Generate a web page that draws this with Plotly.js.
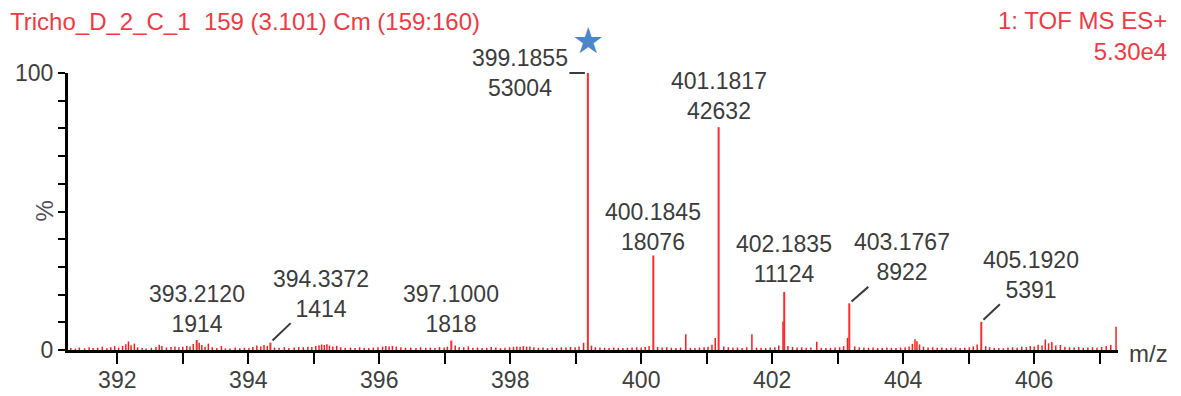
<!DOCTYPE html>
<html>
<head>
<meta charset="utf-8">
<script src="https://cdn.plot.ly/plotly-3.0.1.min.js"></script>
<style>html,body{margin:0;padding:0;background:#fff;}#chart{width:1181px;height:396px;}</style>
</head>
<body>
<div id="chart"></div>
<script>
// ---- data ----
const titleLeft = "Tricho_D_2_C_1\u00A0\u00A0159 (3.101) Cm (159:160)";
const titleRight = "1: TOF MS ES+";
const baseIntensityText = "5.30e4";
const basePeakIntensity = 53004;

// labelled peaks (m/z, absolute intensity)
const labelMz = [393.2120, 394.3372, 397.1000, 399.1855, 400.1845, 401.1817, 402.1835, 403.1767, 405.1920];
const labelInt = [1914, 1414, 1818, 53004, 18076, 42632, 11124, 8922, 5391];

// unlabelled peaks (m/z, relative intensity %)
const minorMz = [391.29,391.36,391.42,391.50,391.57,391.63,391.70,391.77,391.84,391.90,391.96,392.02,392.08,392.13,392.17,392.21,392.26,392.31,392.38,392.44,392.52,392.59,392.64,392.68,392.75,392.82,392.88,392.94,393.00,393.06,393.11,393.16,393.25,393.29,393.34,393.39,393.45,393.52,393.59,393.65,393.72,393.80,393.87,393.94,394.01,394.07,394.13,394.19,394.24,394.29,394.40,394.47,394.55,394.62,394.70,394.77,394.84,394.91,394.97,395.03,395.08,395.12,395.16,395.20,395.24,395.29,395.35,395.41,395.48,395.56,395.63,395.70,395.77,395.84,395.91,395.98,396.05,396.10,396.15,396.20,396.26,396.33,396.40,396.48,396.56,396.63,396.71,396.78,396.85,396.92,396.99,397.04,397.16,397.22,397.29,397.36,397.43,397.50,397.57,397.64,397.71,397.78,397.85,397.92,397.99,398.05,398.10,398.15,398.20,398.25,398.30,398.36,398.43,398.50,398.57,398.64,398.71,398.78,398.85,398.92,398.99,399.05,399.12,399.24,399.30,399.37,399.44,399.51,399.58,399.65,399.72,399.79,399.86,399.93,400.00,400.06,400.12,400.25,400.32,400.39,400.46,400.53,400.60,400.68,400.75,400.82,400.89,400.96,401.02,401.08,401.13,401.26,401.33,401.40,401.47,401.54,401.61,401.69,401.76,401.83,401.90,401.97,402.04,402.10,402.165,402.24,402.31,402.38,402.45,402.52,402.59,402.68,402.75,402.82,402.89,402.96,403.03,403.09,403.15,403.26,403.33,403.40,403.47,403.54,403.61,403.68,403.75,403.82,403.89,403.96,404.03,404.09,404.14,404.18,404.21,404.25,404.31,404.38,404.45,404.52,404.59,404.66,404.73,404.80,404.87,404.94,405.01,405.07,405.13,405.26,405.32,405.39,405.46,405.53,405.60,405.67,405.74,405.81,405.88,405.94,406.00,406.06,406.12,406.17,406.22,406.27,406.33,406.40,406.47,406.54,406.61,406.68,406.75,406.82,406.89,406.96,407.03,407.10,407.17,407.25];
const minorPct = [0.7,0.5,0.9,0.6,1.0,0.7,0.8,1.2,0.6,1.0,1.4,0.9,1.5,2.1,3.1,1.7,2.3,1.0,0.7,0.5,0.8,1.1,1.9,1.4,0.9,1.1,1.3,1.0,1.2,1.5,1.3,2.2,2.6,1.8,1.2,2.3,1.0,0.7,1.4,0.6,0.5,0.9,0.6,0.8,0.7,1.1,1.6,1.3,1.8,1.5,0.9,0.8,1.0,0.7,0.9,1.1,1.0,1.2,1.1,1.4,1.7,2.0,1.8,2.1,1.6,1.3,1.5,1.0,0.8,0.9,0.7,1.0,0.8,0.7,0.9,1.0,1.2,1.4,1.3,1.5,1.2,1.0,0.8,0.9,0.7,1.0,0.8,0.9,0.7,1.1,0.9,1.2,1.6,1.1,1.0,1.3,0.8,0.9,0.7,0.8,1.1,0.9,0.7,0.8,1.0,1.1,1.3,1.2,1.4,1.2,1.3,1.0,0.8,0.9,0.7,0.9,0.8,1.0,0.9,1.1,1.0,1.3,2.6,1.6,1.0,0.9,0.8,0.7,0.9,0.8,0.7,0.8,0.9,1.0,0.9,1.1,1.4,1.1,0.9,1.0,0.8,0.7,0.9,5.7,0.8,0.7,0.9,1.0,1.2,1.9,4.3,1.3,1.0,0.8,0.9,0.7,1.0,5.7,0.9,0.8,0.7,0.9,1.0,1.6,10.3,1.4,1.1,0.9,1.0,0.8,0.9,3.0,0.8,0.7,0.8,0.9,1.0,1.4,4.4,1.3,1.0,0.9,0.8,0.9,0.7,0.8,0.9,0.8,0.7,0.9,1.0,1.3,2.2,3.9,3.2,2.0,1.2,0.9,1.0,0.8,0.9,0.7,0.8,0.9,0.7,0.8,1.0,1.3,2.0,1.4,1.0,0.8,0.7,0.6,0.9,1.0,0.8,1.2,1.0,1.4,1.3,1.9,1.6,3.8,2.4,2.9,1.6,1.8,1.2,1.0,0.9,1.1,0.8,0.9,1.0,0.8,1.1,1.4,1.8,8.4];

const xTickVals = [392,393,394,395,396,397,398,399,400,401,402,403,404,405,406,407];
const xTickText = ["392","","394","","396","","398","","400","","402","","404","","406",""];
const yTickVals = [0,10,20,30,40,50,60,70,80,90,100];
const yTickText = ["0","","","","","","","","","","100"];

// ---- label placement (pixel offsets from peak top) ----
const labelStyle = [
  {dx:0, dy:31, arrow:false},
  {dx:51, dy:-49, arrow:true},
  {dx:0, dy:32, arrow:false},
  {dx:-68, dy:0, arrow:true},
  {dx:0, dy:29, arrow:false},
  {dx:0, dy:31, arrow:false},
  {dx:0, dy:33, arrow:false},
  {dx:53, dy:-46, arrow:true},
  {dx:50, dy:-47, arrow:true}
];

const labelPct = labelInt.map(v => v / basePeakIntensity * 100);

function sticks(xs, ys) {
  const X = [], Y = [];
  for (let i = 0; i < xs.length; i++) { X.push(xs[i], xs[i], null); Y.push(0, ys[i], null); }
  return {x: X, y: Y};
}
const minorS = sticks(minorMz, minorPct);
const majorS = sticks(labelMz, labelPct);

const traces = [
  {type:'scatter', mode:'lines', x:minorS.x, y:minorS.y, line:{color:'#ff1a1a', width:1.5}, hoverinfo:'skip', cliponaxis:false},
  {type:'scatter', mode:'lines', x:majorS.x, y:majorS.y, line:{color:'#ff2a2a', width:2}, hoverinfo:'skip', cliponaxis:false}
];

const FONT = 'Arial, "Liberation Sans", sans-serif';
const annotations = [];
labelMz.forEach((m, i) => {
  const st = labelStyle[i];
  const txt = m.toFixed(4) + '<br>' + labelInt[i];
  if (st.arrow) {
    annotations.push({x:m, y:labelPct[i], xref:'x', yref:'y', text:txt, showarrow:true,
      arrowhead:0, arrowwidth:2, arrowcolor:'#3a3a3a', ax:st.dx, ay:st.dy, standoff:3,
      font:{family:FONT, size:23, color:'#3c3c3c'}, align:'center'});
  } else {
    annotations.push({x:m, y:labelPct[i], xref:'x', yref:'y', text:txt, showarrow:false,
      xanchor:'center', yanchor:'middle', xshift:st.dx, yshift:st.dy,
      font:{family:FONT, size:23, color:'#3c3c3c'}, align:'center'});
  }
});
// star marking the base peak
annotations.push({x:labelMz[3], y:labelPct[3], xref:'x', yref:'y', text:'\u2605', showarrow:false,
  xanchor:'center', yanchor:'middle', yshift:33, font:{family:'DejaVu Sans', size:36, color:'#4a86c8'}});
// right-top header
annotations.push({x:1, y:1, xref:'paper', yref:'paper', text:titleRight + '<br>' + baseIntensityText,
  showarrow:false, xanchor:'right', yanchor:'middle', align:'right', xshift:51, yshift:37,
  font:{family:FONT, size:24, color:'#f03a44'}});
// axis names
annotations.push({x:0, y:50, xref:'paper', yref:'y', text:'%', showarrow:false, textangle:-90,
  xanchor:'center', yanchor:'middle', xshift:-24, font:{family:FONT, size:24, color:'#505060'}});
annotations.push({x:1, y:0, xref:'paper', yref:'y', text:'m/z', showarrow:false,
  xanchor:'left', yanchor:'middle', xshift:9, yshift:-3, font:{family:FONT, size:24, color:'#404040'}});

const layout = {
  width:1181, height:396,
  margin:{l:68, r:63, t:73, b:46},
  paper_bgcolor:'#ffffff', plot_bgcolor:'#ffffff',
  showlegend:false,
  hovermode:false,
  font:{family:FONT, color:'#404040', size:24},
  title:{text:titleLeft, x:10/1181, xref:'container', xanchor:'left', y:1-22/396, yref:'container', yanchor:'middle',
    font:{family:FONT, size:24, color:'#f03a44'}},
  xaxis:{range:[391.247, 407.28], showline:true, linecolor:'#000', linewidth:3, ticks:'outside', ticklen:11,
    tickwidth:2, tickcolor:'#000', tickmode:'array', tickvals:xTickVals, ticktext:xTickText, showgrid:false,
    zeroline:false, ticklabelstandoff:-4, tickfont:{family:FONT, size:23, color:'#404040'}, fixedrange:true},
  yaxis:{range:[0,100], showline:true, linecolor:'#000', linewidth:3, ticks:'outside', ticklen:7,
    tickwidth:2, tickcolor:'#000', tickmode:'array', tickvals:yTickVals, ticktext:yTickText, showgrid:false,
    zeroline:false, tickfont:{family:FONT, size:23, color:'#404040'}, fixedrange:true},
  annotations:annotations
};

Plotly.newPlot('chart', traces, layout, {displayModeBar:false, staticPlot:true});
</script>
</body>
</html>
